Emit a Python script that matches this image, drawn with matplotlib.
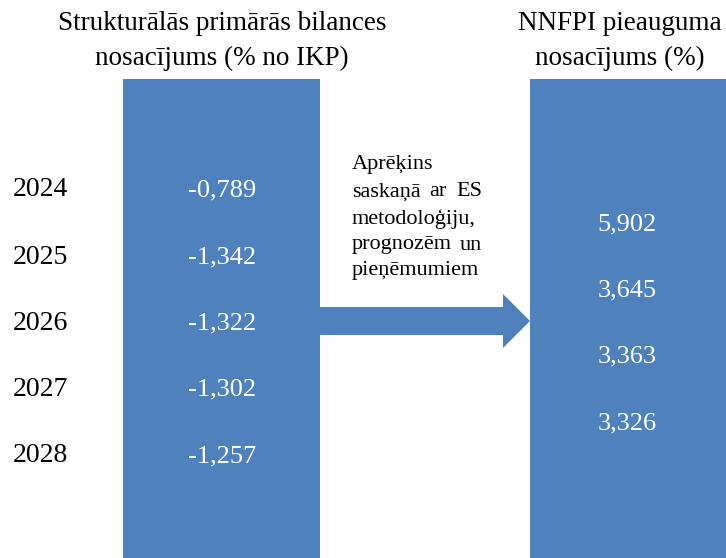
import matplotlib
matplotlib.use("Agg")
import matplotlib.pyplot as plt
from matplotlib.patches import Rectangle, Polygon

years = ["2024", "2025", "2026", "2027", "2028"]
left_values = ["-0,789", "-1,342", "-1,322", "-1,302", "-1,257"]
right_values = ["5,902", "3,645", "3,363", "3,326"]
left_title = ["Strukturālās primārās bilances", "nosacījums (% no IKP)"]
right_title = ["NNFPI pieauguma", "nosacījums (%)"]
middle_lines = [["Aprēķins"], ["saskaņā", "ar", "ES"], ["metodoloģiju,"],
                ["prognozēm", "un"], ["pieņēmumiem"]]

BLUE = "#4F81BD"
FONT = "Liberation Serif"

fig = plt.figure(figsize=(7.26, 5.58), dpi=100)
ax = fig.add_axes([0, 0, 1, 1])
ax.set_xlim(0, 726)
ax.set_ylim(558, 0)
ax.axis("off")

# rectangles
ax.add_patch(Rectangle((123, 79), 197, 479, color=BLUE, lw=0))
ax.add_patch(Rectangle((530, 79), 196, 479, color=BLUE, lw=0))

# arrow
arrow = Polygon([(320, 307), (503, 307), (503, 294), (530, 321),
                 (503, 348), (503, 335), (320, 335)], closed=True,
                color=BLUE, lw=0)
ax.add_patch(arrow)

# titles
for line, y in zip(left_title, [24, 58]):
    ax.text(222, y, line, ha="center", va="center", fontsize=19.5, family=FONT)
for line, y in zip(right_title, [24, 58]):
    ax.text(620, y, line, ha="center", va="center", fontsize=19.5, family=FONT)

# years and left values
y_left = [190, 257, 323, 389, 456]
for yr, v, y in zip(years, left_values, y_left):
    ax.text(13, y, yr, ha="left", va="center", fontsize=20, family=FONT)
    ax.text(222, y, v, ha="center", va="center", fontsize=19, family=FONT,
            color="white")

# right values
y_right = [224, 290, 356, 423]
for v, y in zip(right_values, y_right):
    ax.text(627, y, v, ha="center", va="center", fontsize=19, family=FONT,
            color="white")

# middle justified text
x0, x1 = 352, 482
y_mid = [165, 192, 219, 245, 270]
fs = 16
for words, y in zip(middle_lines, y_mid):
    if len(words) == 1:
        ax.text(x0, y, words[0], ha="left", va="center", fontsize=fs, family=FONT)
    elif len(words) == 2:
        ax.text(x0, y, words[0], ha="left", va="center", fontsize=fs, family=FONT)
        ax.text(x1, y, words[1], ha="right", va="center", fontsize=fs, family=FONT)
    else:
        ax.text(x0, y, words[0], ha="left", va="center", fontsize=fs, family=FONT)
        ax.text(438, y, words[1], ha="center", va="center", fontsize=fs, family=FONT)
        ax.text(x1, y, words[2], ha="right", va="center", fontsize=fs, family=FONT)

fig.savefig("out.png", dpi=100)
